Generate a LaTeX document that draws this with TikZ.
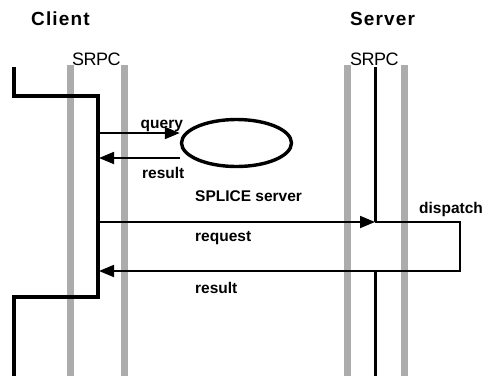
\documentclass[tikz,border=0pt]{standalone}
\usepackage{fontspec}
\setmainfont{Liberation Sans}
\usetikzlibrary{arrows.meta,shapes.geometric}
\begin{document}
\begin{tikzpicture}[x=1pt,y=-1pt,
  srpcbar/.style={fill=gray!65, draw=none},
  thread/.style={line width=3.4pt, line cap=butt},
  msg/.style={line width=1.8pt, -{Triangle[length=15pt,width=12pt]}},
  plainmsg/.style={line width=1.8pt},
  lbl/.style={font=\fontsize{15.5}{16}\selectfont\bfseries, anchor=base west, inner sep=0pt},
  title/.style={font=\fontsize{19}{20}\selectfont\bfseries\addfontfeature{LetterSpace=6}, anchor=base west, inner sep=0pt},
  srpc/.style={font=\fontsize{18}{18}\selectfont\addfontfeature{LetterSpace=-3}, anchor=base west, inner sep=0pt}
]
\useasboundingbox (0,0) rectangle (491,376);
% titles
\node[title] (client) at (31,25.5) {Client};
\node[title] (server) at (350,25.5) {Server};
\node[srpc] (srpcL) at (72,65) {SRPC};
\node[srpc] (srpcR) at (350,65) {SRPC};
% SRPC bars
\fill[srpcbar] (67,65) rectangle (74,376);
\fill[srpcbar] (121,65) rectangle (128,376);
\fill[srpcbar] (343.5,65) rectangle (350.5,376);
\fill[srpcbar] (401,65) rectangle (408,376);
% coordinates
\coordinate (c0) at (14,67);
\coordinate (c1) at (14,96);
\coordinate (c2) at (98,96);
\coordinate (c3) at (98,297);
\coordinate (c4) at (14,297);
\coordinate (c5) at (14,376);
\coordinate (q0) at (98,133);
\coordinate (r0) at (99,158);
\coordinate (rq0) at (98,222);
\coordinate (s0) at (375,67);
\coordinate (s1) at (375,222);
\coordinate (d1) at (460,222);
\coordinate (d2) at (460,271);
\coordinate (s2) at (375,271);
\coordinate (s3) at (375,376);
\coordinate (rr) at (99,271);
% client thread
\draw[thread, line join=miter] (c0) -- (c1) -- (c2) -- (c3) -- (c4) -- (c5);
% SPLICE server
\node[draw, line width=3.4pt, ellipse, minimum width=110pt, minimum height=47pt, inner sep=0pt] (splice) at (236.5,143) {};
\draw[msg] (q0) -- (q0 -| splice.west);
\draw[msg] (r0 -| splice.west) -- (r0);
\node[lbl] (lq) at (140.5,128) {query};
\node[lbl] (lr) at (142,178.5) {result};
\node[lbl] (ls) at (195,201) {SPLICE server};
% server thread
\draw[thread, line width=3pt] (s0) -- (s1);
\draw[thread, line width=3pt] (s2) -- (s3);
\draw[msg] (rq0) -- (s1);
\draw[plainmsg, line join=miter] (s1) -- (d1) -- (d2) -- (s2);
\draw[msg] (s2) -- (rr);
\node[lbl] (lreq) at (195,241) {request};
\node[lbl] (lres) at (195,293) {result};
\node[lbl] (ld) at (419,213) {dispatch};
\end{tikzpicture}
\end{document}
